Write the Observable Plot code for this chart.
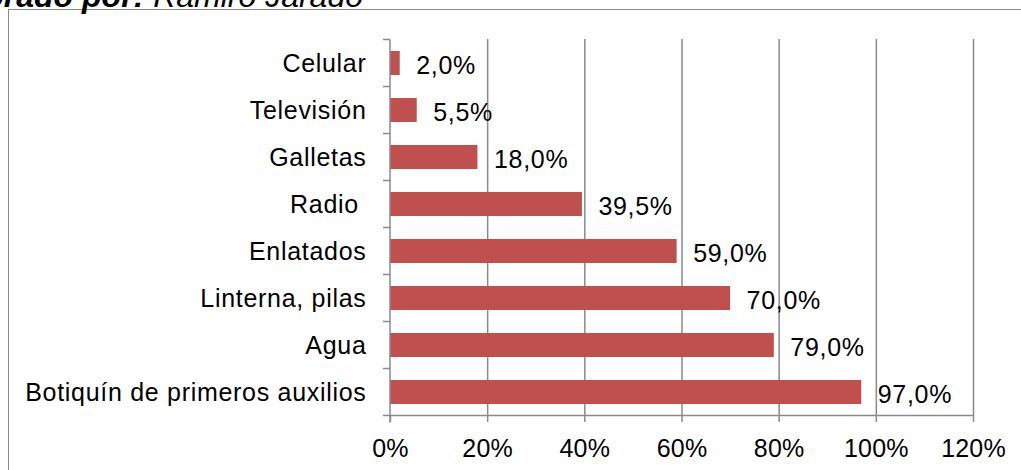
<!DOCTYPE html>
<html>
<head>
<meta charset="utf-8">
<script src="https://cdn.jsdelivr.net/npm/d3@7"></script>
<script src="https://cdn.jsdelivr.net/npm/@observablehq/plot@0.6"></script>
<style>
  html, body { margin: 0; padding: 0; background: #fff; width: 1021px; height: 470px; overflow: hidden; }
  #wrap { position: relative; width: 1021px; height: 470px; }
  #border { position: absolute; left: 8px; top: 9px; right: 0; bottom: -5px; border-top: 1.5px solid #8a8a8a; border-left: 1.5px solid #8a8a8a; }
  #title { position: absolute; right: calc(100% - 363px); top: -20px; white-space: nowrap; font-family: "Liberation Sans", Arial, sans-serif; font-size: 32px; line-height: 32px; font-style: italic; color: #000; }
  #title b { font-weight: bold; }
  #chart { position: absolute; left: 0; top: 0; }
  #chart svg text { letter-spacing: 0.7px; }
  #chart svg g[aria-label="x-axis tick label"] text { letter-spacing: 0.2px; }
</style>
</head>
<body>
<div id="wrap">
  <div id="border"></div>
  <div id="title"><b>Elaborado por:</b> Ramiro Jarado</div>
  <div id="chart"></div>
</div>
<script>
const categories = ["Celular", "Televisión", "Galletas", "Radio\u00a0", "Enlatados", "Linterna, pilas", "Agua", "Botiquín de primeros auxilios"];
const values = [2.0, 5.5, 18.0, 39.5, 59.0, 70.0, 79.0, 97.0];
const valueLabels = ["2,0%", "5,5%", "18,0%", "39,5%", "59,0%", "70,0%", "79,0%", "97,0%"];
const xTicks = [0, 20, 40, 60, 80, 100, 120];
const xTickLabels = ["0%", "20%", "40%", "60%", "80%", "100%", "120%"];

const data = categories.map((c, i) => ({category: c, value: values[i], label: valueLabels[i]}));

const gray = "#8a8a8a";

function axesFrame(index, scales) {
  const {x, y} = scales;
  const step = y.step();
  const bw = y.bandwidth();
  const half = (step - bw) / 2;
  const bounds = categories.map(c => y(c) - half);
  bounds.push(y(categories[categories.length - 1]) + bw + half);
  const x0 = x(0);
  const g = d3.create("svg:g").attr("stroke", gray).attr("stroke-width", 1.5).attr("fill", "none");
  g.append("line").attr("x1", x0).attr("x2", x0).attr("y1", bounds[0]).attr("y2", bounds[bounds.length - 1] + 7);
  g.append("line").attr("x1", x0).attr("x2", x(xTicks[xTicks.length - 1])).attr("y1", bounds[bounds.length - 1]).attr("y2", bounds[bounds.length - 1]);
  for (const b of bounds) {
    g.append("line").attr("x1", x0 - 7).attr("x2", x0).attr("y1", b).attr("y2", b);
  }
  return g.node();
}

const chart = Plot.plot({
  width: 1021,
  height: 470,
  marginLeft: 390,
  marginRight: 48,
  marginTop: 39,
  marginBottom: 55,
  style: {fontFamily: "'Liberation Sans', Arial, sans-serif", fontSize: "25px", color: "#000", background: "transparent", overflow: "visible"},
  x: {domain: [0, 120], ticks: xTicks, tickFormat: (d) => xTickLabels[xTicks.indexOf(d)]},
  y: {domain: categories, paddingInner: 0.5, paddingOuter: 0.25},
  marks: [
    Plot.gridX(xTicks.slice(1), {stroke: gray, strokeOpacity: 1, strokeWidth: 1.5}),
    Plot.barX(data, {y: "category", x: "value", fill: "#C0504D"}),
    Plot.text(data, {y: "category", x: "value", text: "label", textAnchor: "start", dx: 16, dy: 2, fontSize: 25, fill: "#000"}),
    Plot.axisX({ticks: xTicks, tickSize: 7, tickPadding: 17, stroke: gray, strokeWidth: 1.5, fontSize: 25, label: null, tickFormat: d => xTickLabels[xTicks.indexOf(d)]}),
    Plot.axisY({tickSize: 0, tickPadding: 24, fontSize: 25, label: null}),
    axesFrame
  ]
});
document.getElementById("chart").appendChild(chart);
</script>
</body>
</html>
